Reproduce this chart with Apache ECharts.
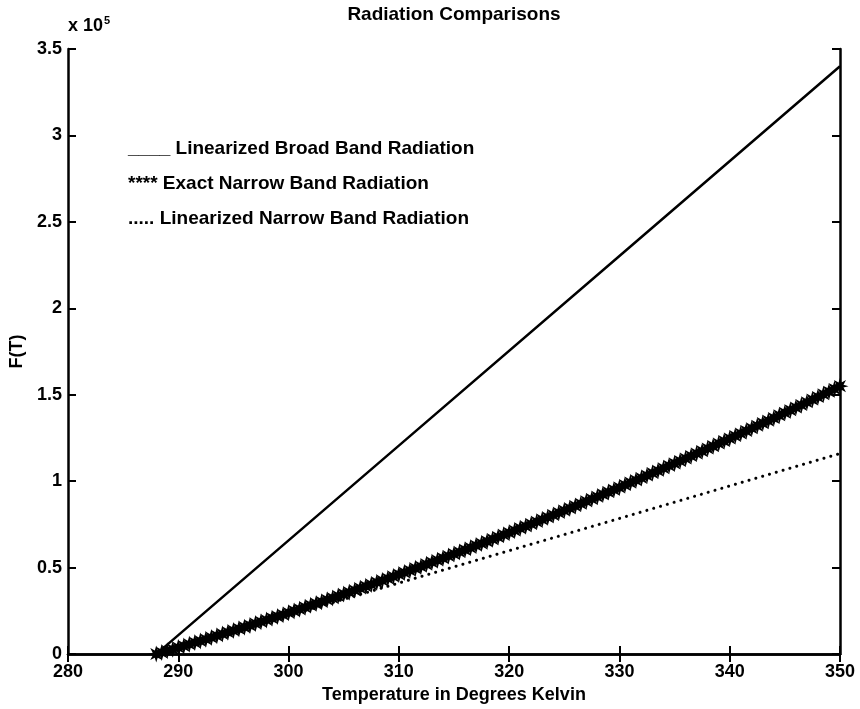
<!DOCTYPE html>
<html>
<head>
<meta charset="utf-8">
<script src="https://cdn.jsdelivr.net/npm/echarts@6/dist/echarts.min.js"></script>
<style>html,body{margin:0;padding:0;background:#fff}#c{width:860px;height:709px}</style>
</head>
<body>
<div id="c"></div>
<script>
// ---- data (F(T) in units of 10^5) ----
const xTicks = [280, 290, 300, 310, 320, 330, 340, 350];
const yTicks = [0, 0.5, 1, 1.5, 2, 2.5, 3, 3.5];

const broadT = [288, 310, 330, 350];
const broadF = [0, 1.206, 2.303, 3.40];

const narrowLinT = [288, 310, 330, 350];
const narrowLinF = [0, 0.411, 0.785, 1.16];

const exactT = [288,288.5,289,289.5,290,290.5,291,291.5,292,292.5,293,293.5,294,294.5,295,295.5,296,296.5,297,297.5,298,298.5,299,299.5,300,300.5,301,301.5,302,302.5,303,303.5,304,304.5,305,305.5,306,306.5,307,307.5,308,308.5,309,309.5,310,310.5,311,311.5,312,312.5,313,313.5,314,314.5,315,315.5,316,316.5,317,317.5,318,318.5,319,319.5,320,320.5,321,321.5,322,322.5,323,323.5,324,324.5,325,325.5,326,326.5,327,327.5,328,328.5,329,329.5,330,330.5,331,331.5,332,332.5,333,333.5,334,334.5,335,335.5,336,336.5,337,337.5,338,338.5,339,339.5,340,340.5,341,341.5,342,342.5,343,343.5,344,344.5,345,345.5,346,346.5,347,347.5,348,348.5,349,349.5,350];
const exactF = [0,0.009,0.019,0.028,0.038,0.047,0.057,0.067,0.076,0.086,0.096,0.106,0.116,0.126,0.136,0.146,0.156,0.166,0.177,0.187,0.197,0.208,0.218,0.228,0.239,0.250,0.260,0.271,0.282,0.292,0.303,0.314,0.325,0.336,0.347,0.358,0.369,0.381,0.392,0.403,0.415,0.426,0.437,0.449,0.461,0.472,0.484,0.496,0.507,0.519,0.531,0.543,0.555,0.567,0.579,0.591,0.603,0.615,0.628,0.640,0.652,0.665,0.677,0.690,0.702,0.715,0.728,0.740,0.753,0.766,0.779,0.792,0.805,0.818,0.831,0.844,0.857,0.870,0.884,0.897,0.910,0.924,0.937,0.951,0.964,0.978,0.992,1.006,1.019,1.033,1.047,1.061,1.075,1.089,1.103,1.117,1.131,1.146,1.160,1.174,1.189,1.203,1.218,1.232,1.247,1.262,1.276,1.291,1.306,1.321,1.336,1.350,1.365,1.381,1.396,1.411,1.426,1.441,1.457,1.472,1.487,1.503,1.518,1.534,1.550];

const seriesNames = ['Linearized Broad Band Radiation', 'Exact Narrow Band Radiation', 'Linearized Narrow Band Radiation'];
const legendPrefix = ['____', '****', '.....'];

// ---- styling helpers ----
function starPath() {
  let pts = [];
  for (let k = 0; k < 16; k++) {
    const a = k * Math.PI / 8;
    const r = (k % 2 === 0) ? 10 : 4.5;
    pts.push((10 + r * Math.cos(a)).toFixed(2) + ',' + (10 + r * Math.sin(a)).toFixed(2));
  }
  return 'path://M' + pts.join(' L') + ' Z';
}
const FONT = 'Liberation Sans, Arial, Helvetica, sans-serif';
const pairs = (xs, ys) => xs.map((x, i) => [x, ys[i]]);

const chart = echarts.init(document.getElementById('c'), null, {renderer: 'canvas'});
const axisCommon = {
  axisLine: {show: true, lineStyle: {color: '#000', width: 2.5}},
  axisTick: {show: true, inside: true, length: 8, lineStyle: {color: '#000', width: 2}},
  splitLine: {show: false}
};
const labelFont = {fontFamily: FONT, fontWeight: 'bold', fontSize: 18, color: '#000'};
chart.setOption({
  animation: false,
  backgroundColor: '#fff',
  title: {
    text: 'Radiation Comparisons', left: 449, top: 0, textAlign: 'center',
    textStyle: {fontFamily: FONT, fontWeight: 'bold', fontSize: 19, color: '#000'}
  },
  grid: {left: 68, right: 20, top: 49, bottom: 48, containLabel: false},
  legend: {
    orient: 'vertical', left: 118, top: 134, itemGap: 16, itemWidth: 0, itemHeight: 1,
    icon: 'none', selectedMode: false,
    data: seriesNames,
    formatter: function (name) { return legendPrefix[seriesNames.indexOf(name)] + ' ' + name; },
    textStyle: {fontFamily: FONT, fontWeight: 'bold', fontSize: 19, color: '#000'}
  },
  xAxis: [
    Object.assign({}, axisCommon, {
      type: 'value', min: xTicks[0], max: xTicks[xTicks.length - 1], interval: 10, position: 'bottom',
      name: 'Temperature in Degrees Kelvin', nameLocation: 'middle', nameGap: 30,
      nameTextStyle: labelFont,
      axisLabel: Object.assign({margin: 9}, labelFont)
    }),
    Object.assign({}, axisCommon, {
      type: 'value', min: xTicks[0], max: xTicks[xTicks.length - 1], interval: 10, position: 'top',
      axisLabel: {show: false}
    })
  ],
  yAxis: [
    Object.assign({}, axisCommon, {
      type: 'value', min: yTicks[0], max: yTicks[yTicks.length - 1], interval: 0.5, position: 'left',
      name: 'F(T)', nameLocation: 'middle', nameGap: 42, nameRotate: 90,
      nameTextStyle: labelFont,
      axisLabel: Object.assign({margin: 6}, labelFont)
    }),
    Object.assign({}, axisCommon, {
      type: 'value', min: yTicks[0], max: yTicks[yTicks.length - 1], interval: 0.5, position: 'right',
      axisLabel: {show: false}
    })
  ],
  graphic: [{
    type: 'text', left: 68, top: 15,
    style: {
      text: '{b|x 10}{s|5}',
      rich: {
        b: {fontFamily: FONT, fontWeight: 'bold', fontSize: 18, fill: '#000', verticalAlign: 'bottom'},
        s: {fontFamily: FONT, fontWeight: 'bold', fontSize: 11, fill: '#000', verticalAlign: 'top', padding: [0, 0, 9, 1]}
      }
    }
  }],
  series: [
    {
      name: seriesNames[0], type: 'line', data: pairs(broadT, broadF),
      showSymbol: false, lineStyle: {color: '#000', width: 2.5}, itemStyle: {color: '#000'}
    },
    {
      name: seriesNames[1], type: 'line', data: pairs(exactT, exactF),
      symbol: starPath(), symbolSize: 17, showSymbol: true,
      lineStyle: {color: '#000', width: 7}, itemStyle: {color: '#000'}
    },
    {
      name: seriesNames[2], type: 'line', data: pairs(narrowLinT, narrowLinF),
      showSymbol: false, lineStyle: {color: '#000', width: 3, type: [0.1, 7], cap: 'round'}, itemStyle: {color: '#000'}
    }
  ]
});
</script>
</body>
</html>
